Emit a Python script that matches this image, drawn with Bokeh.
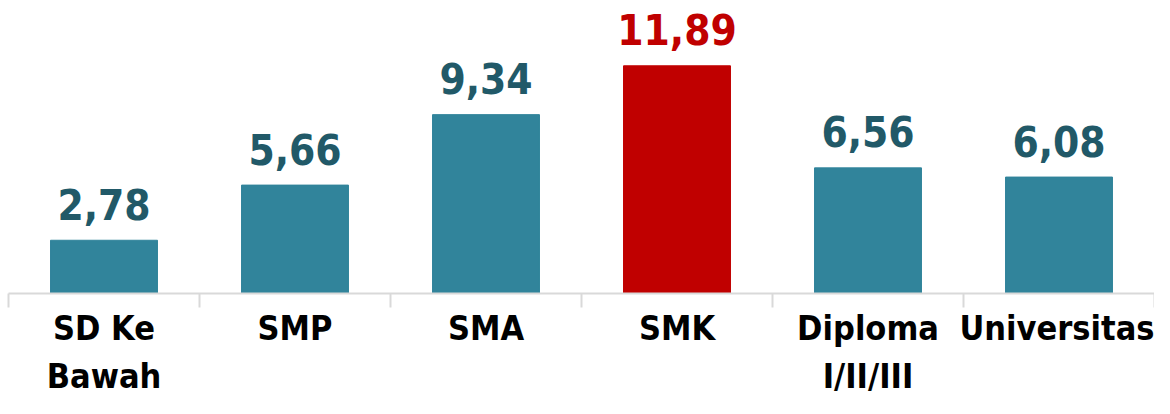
from bokeh.plotting import figure
from bokeh.models import ColumnDataSource, Range1d, FixedTicker
from bokeh.core.properties import value
from bokeh.embed import file_html
from bokeh.resources import INLINE

categories = ["SD Ke\nBawah", "SMP", "SMA", "SMK", "Diploma\nI/II/III", "Universitas"]
values = [2.78, 5.66, 9.34, 11.89, 6.56, 6.08]
bar_colors = ["#31849b", "#31849b", "#31849b", "#c00000", "#31849b", "#31849b"]
label_colors = ["#215968", "#215968", "#215968", "#c00000", "#215968", "#215968"]

FONT = "DejaVu Sans Condensed"

xs = [i + 0.5 for i in range(len(categories))]
labels = [f"{v:.2f}".replace(".", ",") for v in values]

src = ColumnDataSource(dict(x=xs, top=values, color=bar_colors, lcolor=label_colors, label=labels))

p = figure(width=1154, height=398, output_backend="svg", toolbar_location=None,
           x_range=Range1d(0, len(categories)), y_range=Range1d(0, 15.3),
           min_border_left=8, min_border_right=0, min_border_top=0, min_border_bottom=90)

p.vbar(x="x", top="top", width=0.56, color="color", source=src)
p.text(x="x", y="top", text="label", text_color="lcolor", source=src,
       text_align="center", text_baseline="alphabetic", y_offset=-36,
       text_font=value(FONT), text_font_style="bold", text_font_size="42px")

p.xgrid.visible = False
p.ygrid.visible = False
p.yaxis.visible = False
p.outline_line_color = None

ax = p.xaxis[0]
ax.ticker = FixedTicker(ticks=xs, minor_ticks=list(range(len(categories) + 1)))
ax.major_label_overrides = {x: c for x, c in zip(xs, categories)}
ax.major_tick_line_color = None
ax.major_tick_out = 0
ax.major_tick_in = 0
ax.minor_tick_line_color = "#d9d9d9"
ax.minor_tick_line_width = 2
ax.minor_tick_out = 14
ax.minor_tick_in = 0
ax.axis_line_color = "#d9d9d9"
ax.axis_line_width = 2
ax.major_label_standoff = 0
ax.major_label_text_font = FONT
ax.major_label_text_font_style = "bold"
ax.major_label_text_font_size = "34px"
ax.major_label_text_color = "#000000"

open("out.html", "w").write(file_html(p, INLINE))
